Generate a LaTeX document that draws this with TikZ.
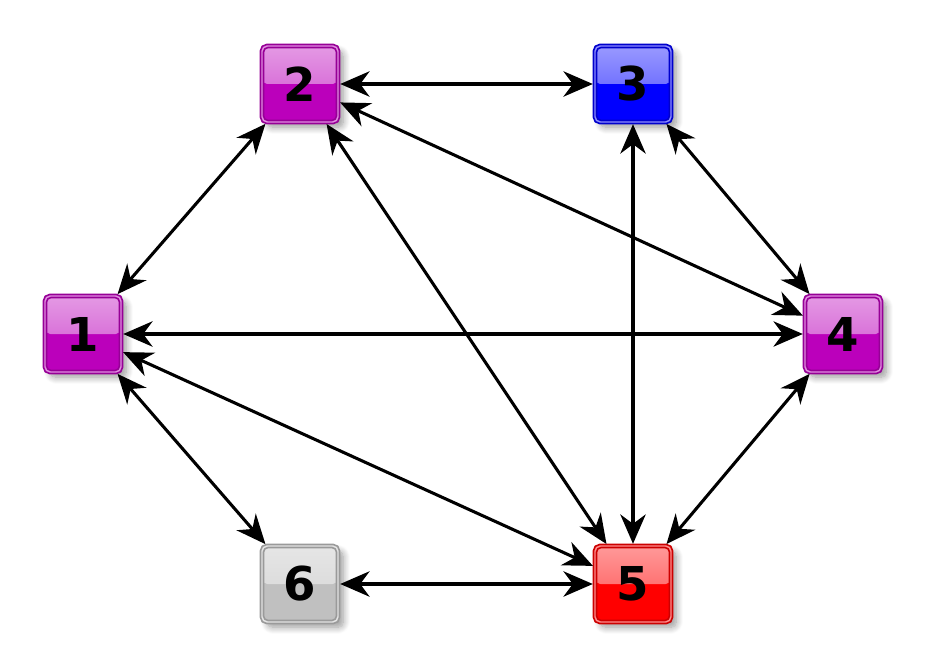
\documentclass[tikz,border=0pt]{standalone}
\usepackage{fontspec}
\newfontfamily\numfont{DejaVu Sans}
\usetikzlibrary{arrows.meta, shadows.blur}
\definecolor{magbox}{RGB}{187,0,187}
\definecolor{bluebox}{RGB}{0,0,255}
\definecolor{redbox}{RGB}{255,0,0}
\definecolor{graybox}{RGB}{192,192,192}

\begin{document}
\begin{tikzpicture}[
    x=0.75pt, y=-0.75pt,
    vbox/.style={rectangle, rounded corners=4pt, minimum size=57pt,
                 inner sep=0pt, fill=#1, draw=#1!80!black, line width=1.3pt,
                 double=white!55!#1, double distance=1.1pt,
                 font=\numfont\bfseries\fontsize{35}{38}\selectfont,
                 blur shadow={shadow xshift=4pt, shadow yshift=-4pt,
                              shadow opacity=40, shadow blur radius=5pt,
                              shadow blur steps=10},
                 path picture={\shade[top color=white!60!#1, bottom color=white!30!#1]
                   (path picture bounding box.north west) rectangle
                   (path picture bounding box.east);}},
    arr/.style={{Stealth[length=22pt, width=19pt, inset=7pt]}-{Stealth[length=22pt, width=19pt, inset=7pt]},
                line width=2.3pt, shorten <=1pt, shorten >=1pt},
  ]
  \useasboundingbox (0,0) rectangle (928,667);

  % Vertices
  \node[vbox=magbox]  (n1) at (83,334)  {1};
  \node[vbox=magbox]  (n2) at (300,84)  {2};
  \node[vbox=bluebox] (n3) at (633,84)  {3};
  \node[vbox=magbox]  (n4) at (843,334) {4};
  \node[vbox=redbox]  (n5) at (633,584) {5};
  \node[vbox=graybox] (n6) at (300,584) {6};

  % Edges
  \draw[arr] (n2) -- (n3);
  \draw[arr] (n1) -- (n2);
  \draw[arr] (n3) -- (n4);
  \draw[arr] (n2) -- (n4);
  \draw[arr] (n2) -- (n5);
  \draw[arr] (n3) -- (n5);
  \draw[arr] (n1) -- (n4);
  \draw[arr] (n1) -- (n5);
  \draw[arr] (n1) -- (n6);
  \draw[arr] (n4) -- (n5);
  \draw[arr] (n6) -- (n5);
\end{tikzpicture}
\end{document}
